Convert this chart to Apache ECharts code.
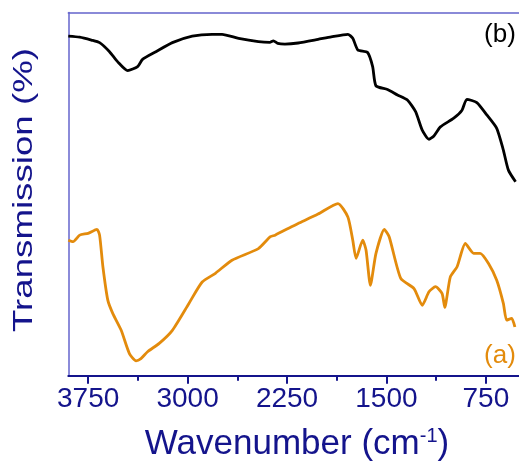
<!DOCTYPE html>
<html>
<head>
<meta charset="utf-8">
<script src="https://cdn.jsdelivr.net/npm/echarts@6/dist/echarts.min.js"></script>
<style>
  html, body { margin: 0; padding: 0; background: #fff; }
  #chart { width: 519px; height: 462px; }
</style>
</head>
<body>
<div id="chart"></div>
<script>
// FTIR spectra: wavenumber (cm^-1) vs. transmission (arbitrary %)
const wavenumberB = [3900, 3814, 3726, 3664, 3589, 3527, 3452, 3377, 3340, 3239, 3115, 2965, 2815, 2740,
  2615, 2466, 2380, 2353, 2320, 2266, 2166, 2016, 1916, 1791, 1754, 1716, 1642, 1604, 1579, 1492, 1417,
  1342, 1280, 1230, 1179, 1142, 1093, 992, 930, 893, 818, 743, 668, 618, 580, 526];
const transmissionB = [93.5, 93.2, 92.4, 91.7, 89.2, 86.4, 84.0, 85.1, 87.1, 89.2, 91.7, 93.5, 94.0, 94.0,
  92.9, 92.0, 91.8, 92.2, 91.5, 91.3, 91.6, 92.6, 93.3, 94.0, 92.9, 89.7, 89.0, 85.1, 79.8, 78.8, 77.3,
  75.9, 72.7, 67.6, 65.1, 66.0, 68.5, 70.9, 73.1, 76.1, 75.2, 71.8, 68.1, 62.1, 56.6, 53.4];

const wavenumberA = [3900, 3864, 3814, 3751, 3684, 3664, 3639, 3602, 3564, 3501, 3439, 3389, 3352, 3302,
  3214, 3115, 2990, 2890, 2790, 2665, 2466, 2378, 2340, 2216, 2166, 2016, 1866, 1791, 1754, 1729, 1679,
  1654, 1621, 1579, 1516, 1479, 1392, 1292, 1230, 1179, 1130, 1080, 1060, 1018, 967, 905, 842, 793, 730,
  668, 618, 593, 555, 531];
const transmissionA = [37.3, 36.9, 38.7, 39.2, 40.3, 38.7, 30.0, 20.8, 17.1, 12.5, 6.1, 4.1, 4.7, 6.6,
  8.9, 12.5, 19.9, 25.8, 28.2, 31.8, 35.0, 38.2, 38.7, 41.0, 41.9, 44.5, 47.4, 43.7, 37.3, 32.3, 37.3,
  34.6, 24.9, 33.7, 40.3, 38.2, 26.8, 24.0, 19.4, 23.1, 24.5, 22.6, 18.8, 27.2, 30.0, 36.4, 33.7, 33.7, 30.9,
  26.3, 19.9, 15.3, 15.8, 13.4];

const majorTicks = [3750, 3000, 2250, 1500, 750];
const minorTicks = [3375, 2625, 1875, 1125];

const X_MIN = 500, X_MAX = 3900;
const navy = '#14148c';
const lightBlue = '#6464cc';
const orange = '#e38b0c';
const font = "'Liberation Sans', Arial, sans-serif";

const zip = (xs, ys) => xs.map((x, i) => [x, ys[i]]);

const chart = echarts.init(document.getElementById('chart'), null, { renderer: 'canvas' });

chart.setOption({
  animation: false,
  backgroundColor: '#fff',
  grid: { left: 68.3, top: 12.5, width: 454, bottom: 86.3, containLabel: false },
  xAxis: [
    {
      type: 'value', min: X_MIN, max: X_MAX, inverse: true, position: 'bottom',
      axisLine: { show: true, lineStyle: { color: navy, width: 2 } },
      axisTick: { show: true, inside: false, length: 8, customValues: majorTicks, lineStyle: { color: navy, width: 2 } },
      axisLabel: {
        show: true, customValues: majorTicks, margin: 10, color: navy, fontSize: 28, fontFamily: font,
        formatter: (v) => String(v)
      },
      splitLine: { show: false }
    },
    {
      type: 'value', min: X_MIN, max: X_MAX, inverse: true, position: 'bottom',
      axisLine: { show: false },
      axisTick: { show: true, inside: false, length: 5, customValues: minorTicks, lineStyle: { color: navy, width: 2 } },
      axisLabel: { show: false },
      splitLine: { show: false }
    },
    {
      type: 'value', min: X_MIN, max: X_MAX, inverse: true, position: 'top',
      axisLine: { show: true, lineStyle: { color: lightBlue, width: 1.5 } },
      axisTick: { show: false }, axisLabel: { show: false }, splitLine: { show: false }
    }
  ],
  yAxis: {
    type: 'value', min: 0, max: 100,
    axisLine: { show: true, lineStyle: { color: lightBlue, width: 1.5 } },
    axisTick: { show: false }, axisLabel: { show: false }, splitLine: { show: false }
  },
  series: [
    {
      name: '(a)', type: 'line', xAxisIndex: 0, data: zip(wavenumberA, transmissionA),
      showSymbol: false, smooth: 0.2, lineStyle: { color: orange, width: 2.8 }, z: 3
    },
    {
      name: '(b)', type: 'line', xAxisIndex: 0, data: zip(wavenumberB, transmissionB),
      showSymbol: false, smooth: 0.2, lineStyle: { color: '#000', width: 2.8 }, z: 3
    }
  ],
  graphic: [
    {
      type: 'text', x: 24, y: 190, rotation: Math.PI / 2, scaleX: 1.31, scaleY: 1,
      style: { text: 'Transmission (%)', fill: navy, font: '28px ' + font, textAlign: 'center', textVerticalAlign: 'middle' }
    },
    {
      type: 'text', x: 297, y: 444,
      style: {
        text: '{m|Wavenumber (cm}{s|-1}{m|)}', textAlign: 'center', textVerticalAlign: 'middle',
        rich: {
          m: { fontSize: 35, fontFamily: font, fill: navy, color: navy },
          s: { fontSize: 20, fontFamily: font, fill: navy, color: navy, verticalAlign: 'top' }
        }
      }
    },
    {
      type: 'text', x: 500, y: 35,
      style: { text: '(b)', fill: '#000', font: '26px ' + font, textAlign: 'center', textVerticalAlign: 'middle' }
    },
    {
      type: 'text', x: 500, y: 356,
      style: { text: '(a)', fill: orange, font: '26px ' + font, textAlign: 'center', textVerticalAlign: 'middle' }
    }
  ]
});
</script>
</body>
</html>
